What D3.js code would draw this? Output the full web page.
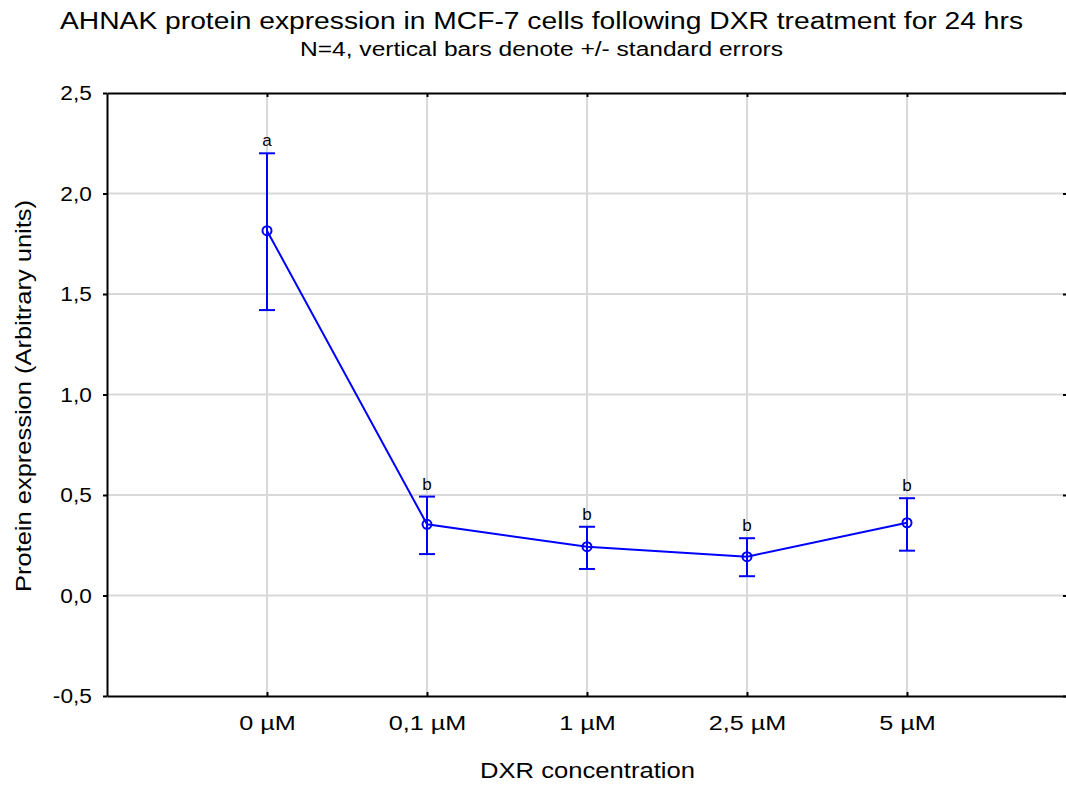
<!DOCTYPE html>
<html>
<head>
<meta charset="utf-8">
<script src="https://cdn.jsdelivr.net/npm/d3@7"></script>
<style>
body { margin: 0; background: #fff; overflow: hidden; }
text { font-family: "Liberation Sans", Arial, sans-serif; fill: #000; }
</style>
</head>
<body>
<script>
(function(){

//chart data
var categories = ["0 µM", "0,1 µM", "1 µM", "2,5 µM", "5 µM"];
var means = [1.815, 0.354, 0.243, 0.193, 0.362];
var upper = [2.20, 0.492, 0.342, 0.285, 0.484];
var lower = [1.42, 0.206, 0.132, 0.096, 0.223];
var letters = ["a", "b", "b", "b", "b"];
var yTicks = [-0.5, 0, 0.5, 1.0, 1.5, 2.0, 2.5];

var width = 1066, height = 785;
var left = 107, right = 1067, top = 93, bottom = 696;
var blue = "#0000ff";

var svg = d3.select("body").append("svg")
    .attr("width", width)
    .attr("height", height);

var x = d3.scalePoint()
    .domain(categories)
    .range([left, right])
    .padding(1);

var y = d3.scaleLinear()
    .domain([-0.5, 2.5])
    .range([bottom, top]);

//decimal comma and plain hyphen, like the original
var fmt = function(d){ return d3.format(".1f")(d).replace(".", ",").replace("\u2212", "-"); };

//grid lines
svg.append("g").selectAll("line")
    .data(yTicks.slice(1, -1))
    .enter().append("line")
    .attr("x1", left).attr("x2", right)
    .attr("y1", function(d){ return y(d); })
    .attr("y2", function(d){ return y(d); })
    .attr("stroke", "#d9d9d9")
    .attr("stroke-width", 2);

svg.append("g").selectAll("line")
    .data(categories)
    .enter().append("line")
    .attr("x1", function(d){ return x(d); })
    .attr("x2", function(d){ return x(d); })
    .attr("y1", top).attr("y2", bottom)
    .attr("stroke", "#d9d9d9")
    .attr("stroke-width", 2);

//axes
var yAxis = svg.append("g")
    .attr("transform", "translate(" + left + ",0)")
    .call(d3.axisLeft(y).tickValues(yTicks).tickFormat(fmt).tickSize(4).tickSizeOuter(0).tickPadding(10));
yAxis.selectAll("text")
    .style("font-size", "21px")
    .attr("transform", "scale(1.08,1)");

//right side: only inward tick marks
var rAxis = svg.append("g")
    .attr("transform", "translate(" + right + ",0)")
    .call(d3.axisRight(y).tickValues(yTicks).tickFormat("").tickSizeInner(-4).tickSizeOuter(0));
rAxis.select(".domain").remove();

var xAxis = svg.append("g")
    .attr("transform", "translate(0," + bottom + ")")
    .call(d3.axisBottom(x).tickSizeInner(-4).tickSizeOuter(0).tickPadding(19));
xAxis.selectAll("text")
    .style("font-size", "21px")
    .attr("transform", "scale(1.2,1)");

svg.append("g")
    .attr("transform", "translate(0," + top + ")")
    .call(d3.axisBottom(x).tickFormat("").tickSizeInner(4).tickSizeOuter(0));

svg.selectAll(".domain").attr("stroke", "#000").attr("stroke-width", 2);
svg.selectAll(".tick line").attr("stroke", "#000").attr("stroke-width", 2);

//error bars
var bars = svg.append("g").selectAll("g")
    .data(categories)
    .enter().append("g");

bars.append("line")
    .attr("x1", function(d){ return x(d); })
    .attr("x2", function(d){ return x(d); })
    .attr("y1", function(d, i){ return y(upper[i]); })
    .attr("y2", function(d, i){ return y(lower[i]); })
    .attr("stroke", blue).attr("stroke-width", 2);

[upper, lower].forEach(function(arr){
    bars.append("line")
        .attr("x1", function(d){ return x(d) - 8; })
        .attr("x2", function(d){ return x(d) + 8; })
        .attr("y1", function(d, i){ return y(arr[i]); })
        .attr("y2", function(d, i){ return y(arr[i]); })
        .attr("stroke", blue).attr("stroke-width", 2);
});

//mean line and markers
var line = d3.line()
    .x(function(d, i){ return x(categories[i]); })
    .y(function(d){ return y(d); });

svg.append("path")
    .datum(means)
    .attr("d", line)
    .attr("fill", "none")
    .attr("stroke", blue)
    .attr("stroke-width", 2);

svg.append("g").selectAll("circle")
    .data(means)
    .enter().append("circle")
    .attr("cx", function(d, i){ return x(categories[i]); })
    .attr("cy", function(d){ return y(d); })
    .attr("r", 4.5)
    .attr("fill", "none")
    .attr("stroke", blue)
    .attr("stroke-width", 2);

//significance letters
svg.append("g").selectAll("text")
    .data(letters)
    .enter().append("text")
    .attr("x", function(d, i){ return x(categories[i]); })
    .attr("y", function(d, i){ return y(upper[i]) - 7; })
    .attr("text-anchor", "middle")
    .style("font-size", "17px")
    .text(function(d){ return d; });

//titles
svg.append("text")
    .attr("x", 541.5).attr("y", 29)
    .attr("text-anchor", "middle")
    .attr("textLength", 963)
    .attr("lengthAdjust", "spacingAndGlyphs")
    .style("font-size", "23px")
    .text("AHNAK protein expression in MCF-7 cells following DXR treatment for 24 hrs");

svg.append("text")
    .attr("x", 541.5).attr("y", 56)
    .attr("text-anchor", "middle")
    .attr("textLength", 483)
    .attr("lengthAdjust", "spacingAndGlyphs")
    .style("font-size", "19.5px")
    .text("N=4, vertical bars denote +/- standard errors");

svg.append("text")
    .attr("x", 587.5).attr("y", 778)
    .attr("text-anchor", "middle")
    .attr("textLength", 215)
    .attr("lengthAdjust", "spacingAndGlyphs")
    .style("font-size", "22px")
    .text("DXR concentration");

svg.append("text")
    .attr("transform", "translate(31,396) rotate(-90)")
    .attr("text-anchor", "middle")
    .attr("textLength", 392)
    .attr("lengthAdjust", "spacingAndGlyphs")
    .style("font-size", "22px")
    .text("Protein expression (Arbitrary units)");

})();
</script>
</body>
</html>
